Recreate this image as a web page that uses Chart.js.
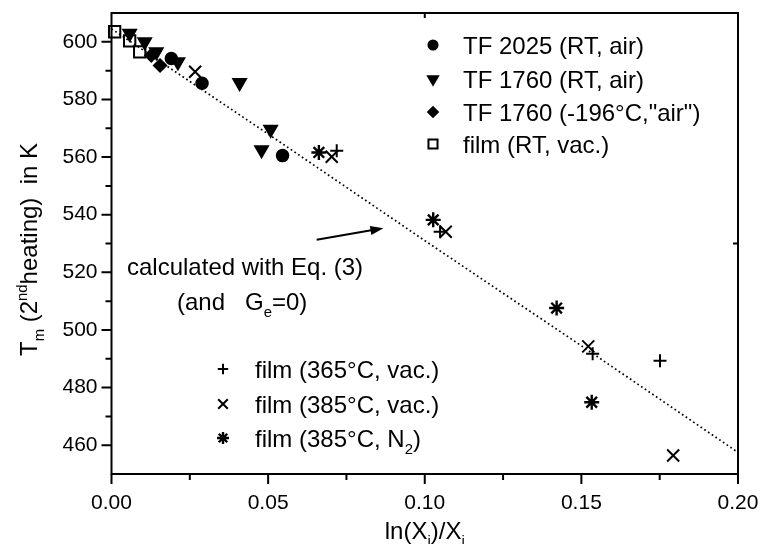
<!DOCTYPE html>
<html lang="en">
<head>
<meta charset="UTF-8" />
<title>Tm (2nd heating) vs ln(Xi)/Xi</title>
<script src="https://cdn.jsdelivr.net/npm/chart.js"></script>
<style>
  html, body { margin: 0; padding: 0; background: #fff; }
</style>
</head>
<body>
<canvas id="chart" width="762" height="544"></canvas>
<script>
const FONT = '"Liberation Sans", Arial, Helvetica, sans-serif';

// axis ticks
const xTicks = [0, 0.05, 0.10, 0.15, 0.20];
const xTickLabels = ['0.00', '0.05', '0.10', '0.15', '0.20'];
const yTicks = [460, 480, 500, 520, 540, 560, 580, 600];

const tf2025X = [0.0191, 0.0289, 0.0546];
const tf2025Y = [594.2, 585.6, 560.5];
const tf1760X = [0.0058, 0.0106, 0.0143, 0.0212, 0.0409, 0.0508, 0.0479];
const tf1760Y = [602.9, 600.0, 596.5, 593.0, 585.8, 569.6, 562.5];
const tf1760coldX = [0.0127, 0.0155];
const tf1760coldY = [595.3, 591.8];
const filmRTX = [0.0010, 0.0058, 0.0090];
const filmRTY = [603.5, 600.3, 596.5];
const film365X = [0.0719, 0.1049, 0.1536, 0.1751];
const film365Y = [562.2, 534.1, 491.7, 489.3];
const film385X = [0.0267, 0.0703, 0.1067, 0.1522, 0.1793];
const film385Y = [589.6, 560.1, 534.1, 494.3, 456.4];
const filmN2X = [0.0662, 0.1027, 0.1421, 0.1533];
const filmN2Y = [561.6, 538.2, 507.6, 474.9];

// calculated curve, Eq. (3)
const calcX = [0, 0.05, 0.10, 0.15, 0.20];
const calcY = [604.5, 568, 531, 494.5, 457.5];

const pts = (xs, ys) => xs.map((x, i) => ({ x, y: ys[i] }));

function marker(label, rich, xs, ys, style, r, fill, extra) {
  return Object.assign({
    label, rich, data: pts(xs, ys), showLine: false, clip: false,
    pointStyle: style, pointRadius: r, pointHoverRadius: r,
    pointBackgroundColor: fill, pointBorderColor: '#000', pointBorderWidth: 1.5
  }, extra || {});
}

const datasets = [
  {
    label: 'calculated with Eq. (3)', data: pts(calcX, calcY), showLine: true,
    borderColor: '#000', borderWidth: 1.7, borderDash: [1.7, 2.8], pointRadius: 0,
    fill: false, tension: 0, noLegend: true
  },
  marker('TF 2025 (RT, air)', null, tf2025X, tf2025Y, 'circle', 6, '#000', { legendRow: 0 }),
  marker('TF 1760 (RT, air)', null, tf1760X, tf1760Y, 'triangle', 7.8, '#000', { pointRotation: 180, legendRow: 1 }),
  marker('TF 1760 (-196°C,"air")', null, tf1760coldX, tf1760coldY, 'rectRot', 6.5, '#000', { legendRow: 2 }),
  marker('film (RT, vac.)', null, filmRTX, filmRTY, 'rect', 8, '#fff', { pointBorderWidth: 2, legendRow: 3 }),
  marker('film (365°C, vac.)', null, film365X, film365Y, 'cross', 6.5, '#000', { pointBorderWidth: 2, legendRow: 4 }),
  marker('film (385°C, vac.)', null, film385X, film385Y, 'crossRot', 8.5, '#000', { pointBorderWidth: 2, legendRow: 5 }),
  marker('film (385°C, N2)', [['film (385°C, N', 'n'], ['2', 'sub'], [')', 'n']],
    filmN2X, filmN2Y, 'star', 7.5, '#000', { pointBorderWidth: 2.4, legendRow: 6 })
];

// draw text made of normal / sub / sup parts, y is the baseline
function drawRich(ctx, parts, x, y, size, measureOnly) {
  let w = 0;
  parts.forEach(([t, m]) => {
    const s = m === 'n' ? size : size * 0.62;
    const dy = m === 'sub' ? size * 0.3 : (m === 'sup' ? -size * 0.42 : 0);
    ctx.font = s + 'px ' + FONT;
    if (!measureOnly) ctx.fillText(t, x + w, y + dy);
    w += ctx.measureText(t).width;
  });
  return w;
}

const decorPlugin = {
  id: 'decor',
  afterDraw(chart) {
    const ctx = chart.ctx;
    const a = chart.chartArea;
    const xs = chart.scales.x, ys = chart.scales.y;
    ctx.save();
    ctx.fillStyle = '#000';
    ctx.strokeStyle = '#000';
    ctx.textBaseline = 'alphabetic';
    ctx.textAlign = 'left';

    // frame
    ctx.lineWidth = 2;
    ctx.strokeRect(a.left, a.top, a.right - a.left, a.bottom - a.top);

    // outward ticks, major and minor
    ctx.beginPath();
    xTicks.forEach((v, i) => {
      const px = xs.getPixelForValue(v);
      ctx.moveTo(px, a.bottom); ctx.lineTo(px, a.bottom + 10);
      if (i < xTicks.length - 1) {
        const pm = xs.getPixelForValue((v + xTicks[i + 1]) / 2);
        ctx.moveTo(pm, a.bottom); ctx.lineTo(pm, a.bottom + 6);
      }
    });
    yTicks.forEach((v, i) => {
      const py = ys.getPixelForValue(v);
      ctx.moveTo(a.left, py); ctx.lineTo(a.left - 10, py);
      [v - 10, v + 10].forEach(m => {
        if (m > ys.min && m < ys.max && (i === 0 || m > v)) {
          const pm = ys.getPixelForValue(m);
          ctx.moveTo(a.left, pm); ctx.lineTo(a.left - 6, pm);
        }
      });
    });
    // the few mirrored inner ticks visible on top / right
    const tx = xs.getPixelForValue(0.10);
    ctx.moveTo(tx, a.top); ctx.lineTo(tx, a.top + 5);
    const ry = ys.getPixelForValue(530);
    ctx.moveTo(a.right, ry); ctx.lineTo(a.right - 5, ry);
    ctx.stroke();

    // axis titles
    const size = 24;
    const xt = [['ln(X', 'n'], ['i', 'sub'], [')/X', 'n'], ['i', 'sub']];
    const xw = drawRich(ctx, xt, 0, 0, size, true);
    drawRich(ctx, xt, (a.left + a.right) / 2 - xw / 2, 539, size);

    const yt = [['T', 'n'], ['m', 'sub'], [' (2', 'n'], ['nd', 'sup'], ['heating)  in K', 'n']];
    const yw = drawRich(ctx, yt, 0, 0, size, true);
    ctx.save();
    ctx.translate(37, (a.top + a.bottom) / 2 + 6);
    ctx.rotate(-Math.PI / 2);
    drawRich(ctx, yt, -yw / 2, 0, size);
    ctx.restore();

    // legends
    const rows = [
      { x: 433, tx: 463, y: 45 }, { x: 433, tx: 463, y: 79 },
      { x: 433, tx: 463, y: 112 }, { x: 433, tx: 463, y: 144 },
      { x: 223, tx: 255, y: 369 }, { x: 223, tx: 255, y: 404 },
      { x: 223, tx: 255, y: 438 }
    ];
    chart.data.datasets.forEach(ds => {
      if (ds.noLegend) return;
      const r = rows[ds.legendRow];
      ctx.fillStyle = ds.pointBackgroundColor;
      ctx.strokeStyle = '#000';
      ctx.lineWidth = ds.pointBorderWidth;
      Chart.helpers.drawPoint(ctx, {
        pointStyle: ds.pointStyle, rotation: ds.pointRotation || 0,
        radius: ds.pointRadius * 0.8, borderWidth: ds.pointBorderWidth
      }, r.x, r.y);
      ctx.fillStyle = '#000';
      drawRich(ctx, ds.rich || [[ds.label, 'n']], r.tx, r.y + size * 0.36, size);
    });

    // annotation with arrow
    const ax0 = xs.getPixelForValue(0.0655), ay0 = ys.getPixelForValue(531.3);
    const ax1 = xs.getPixelForValue(0.0868), ay1 = ys.getPixelForValue(535.3);
    const ang = Math.atan2(ay1 - ay0, ax1 - ax0);
    ctx.lineWidth = 2;
    ctx.beginPath();
    ctx.moveTo(ax0, ay0);
    ctx.lineTo(ax1 - 8 * Math.cos(ang), ay1 - 8 * Math.sin(ang));
    ctx.stroke();
    ctx.beginPath();
    ctx.moveTo(ax1, ay1);
    ctx.lineTo(ax1 - 13 * Math.cos(ang) + 4.5 * Math.sin(ang), ay1 - 13 * Math.sin(ang) - 4.5 * Math.cos(ang));
    ctx.lineTo(ax1 - 13 * Math.cos(ang) - 4.5 * Math.sin(ang), ay1 - 13 * Math.sin(ang) + 4.5 * Math.cos(ang));
    ctx.closePath();
    ctx.fill();

    drawRich(ctx, [['calculated with Eq. (3)', 'n']], 127, 275, size);
    drawRich(ctx, [['(and   G', 'n'], ['e', 'sub'], ['=0)', 'n']], 177, 310, size);

    ctx.restore();
  }
};

new Chart(document.getElementById('chart'), {
  type: 'scatter',
  data: { datasets },
  options: {
    responsive: false,
    animation: false,
    devicePixelRatio: 1,
    layout: { padding: { left: 0, right: 24, top: 13, bottom: 0 } },
    plugins: { legend: { display: false }, tooltip: { enabled: false } },
    scales: {
      x: {
        type: 'linear', min: 0, max: 0.2,
        afterBuildTicks: s => { s.ticks = xTicks.map(v => ({ value: v })); },
        afterFit: s => { s.height = 70; s.paddingLeft = 0; s.paddingRight = 0; },
        grid: { drawOnChartArea: false, drawTicks: true, tickLength: 10, color: 'rgba(0,0,0,0)' },
        border: { display: false },
        ticks: {
          padding: 7, color: '#000', font: { family: FONT, size: 21 },
          maxRotation: 0, autoSkip: false,
          callback: (v, i) => xTickLabels[i]
        }
      },
      y: {
        type: 'linear', min: 450, max: 610,
        afterBuildTicks: s => { s.ticks = yTicks.map(v => ({ value: v })); },
        afterFit: s => { s.width = 111.5; s.paddingTop = 0; s.paddingBottom = 0; },
        grid: { drawOnChartArea: false, drawTicks: true, tickLength: 10, color: 'rgba(0,0,0,0)' },
        border: { display: false },
        ticks: {
          padding: 4, color: '#000', font: { family: FONT, size: 21 },
          autoSkip: false,
          callback: v => String(v)
        }
      }
    }
  },
  plugins: [decorPlugin]
});
</script>
</body>
</html>
